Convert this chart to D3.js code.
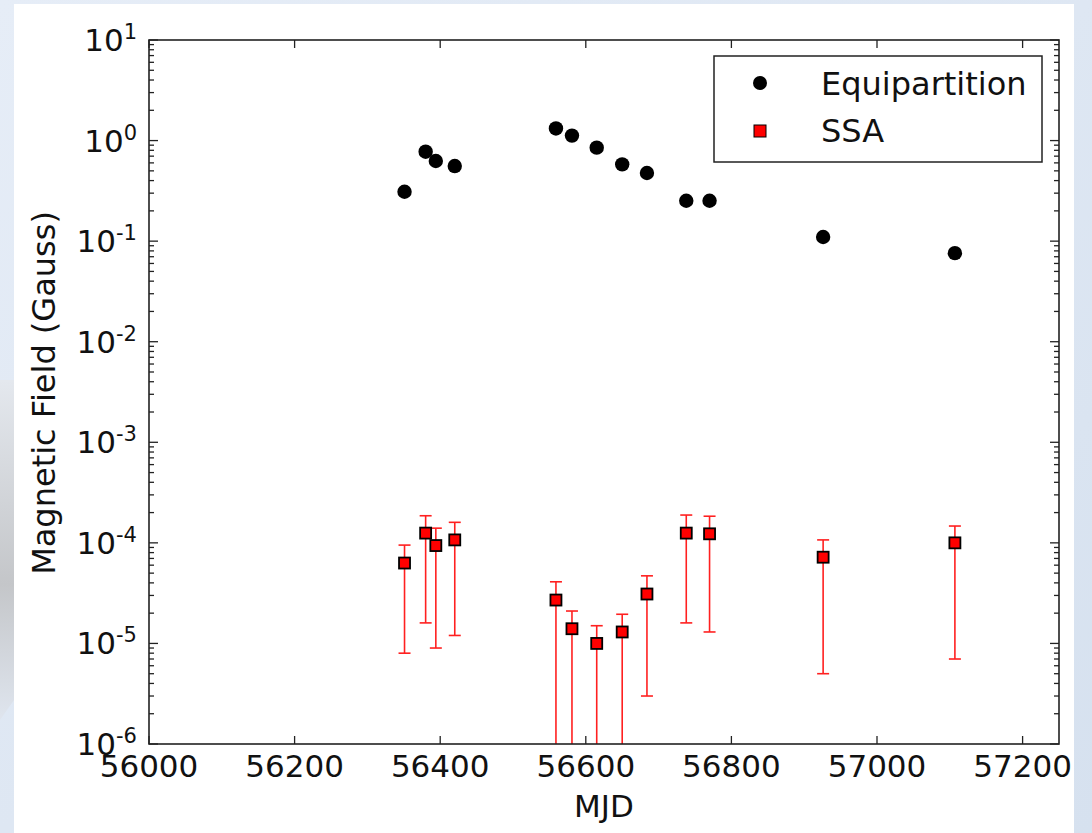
<!DOCTYPE html>
<html>
<head>
<meta charset="utf-8">
<script src="https://cdn.jsdelivr.net/npm/d3@7"></script>
<style>
  html, body { margin: 0; padding: 0; }
  body { width: 1092px; height: 833px; overflow: hidden; }
  svg text { font-family: "DejaVu Sans", sans-serif; fill: #111; }
</style>
</head>
<body>
<svg id="chart" width="1092" height="833"></svg>
<script>
// Observation epochs (MJD) shared by both estimates
const mjd = [56351, 56380, 56394, 56420, 56559, 56581, 56615, 56650, 56684, 56738, 56770, 56926, 57107];
// Equipartition magnetic field (Gauss)
const equipartition = [0.31, 0.775, 0.626, 0.558, 1.32, 1.12, 0.85, 0.58, 0.476, 0.252, 0.252, 0.110, 0.076];
// Synchrotron self-absorption estimate (Gauss) with upper / lower bounds (0 = unbounded below)
const ssa = [6.3e-5, 1.25e-4, 9.4e-5, 1.07e-4, 2.7e-5, 1.4e-5, 1.0e-5, 1.3e-5, 3.1e-5, 1.25e-4, 1.23e-4, 7.2e-5, 1.0e-4];
const ssaUpper = [9.5e-5, 1.86e-4, 1.4e-4, 1.6e-4, 4.1e-5, 2.1e-5, 1.5e-5, 1.95e-5, 4.7e-5, 1.89e-4, 1.84e-4, 1.07e-4, 1.47e-4];
const ssaLower = [8e-6, 1.6e-5, 9e-6, 1.2e-5, 0, 0, 0, 0, 3e-6, 1.6e-5, 1.3e-5, 5e-6, 7e-6];
// Axis ticks
const xTicks = [56000, 56200, 56400, 56600, 56800, 57000, 57200];
const yExponents = [-6, -5, -4, -3, -2, -1, 0, 1];
const legendLabels = ["Equipartition", "SSA"];

const svg = d3.select("#chart");
const W = 1092, H = 833;
const plot = { left: 149, right: 1059, top: 40, bottom: 744 };

// Page background
const defs = svg.append("defs");
const bg = defs.append("linearGradient").attr("id", "bg").attr("x1", 0).attr("y1", 0).attr("x2", 1).attr("y2", 1);
bg.append("stop").attr("offset", "0%").attr("stop-color", "#e6edf7");
bg.append("stop").attr("offset", "100%").attr("stop-color", "#d6e1ef");
const grey = defs.append("linearGradient").attr("id", "grey").attr("x1", 0).attr("y1", 0).attr("x2", 0).attr("y2", 1);
grey.append("stop").attr("offset", "0%").attr("stop-color", "#e4e8ee");
grey.append("stop").attr("offset", "60%").attr("stop-color", "#c4c6c9");
grey.append("stop").attr("offset", "100%").attr("stop-color", "#dfe5ee");
svg.append("rect").attr("width", W).attr("height", H).attr("fill", "url(#bg)");
svg.append("path").attr("d", "M0,380 L14,380 L14,700 L0,720 Z").attr("fill", "url(#grey)");
svg.append("rect").attr("x", 14).attr("y", 4).attr("width", 1060).attr("height", H - 4).attr("fill", "#ffffff");

defs.append("clipPath").attr("id", "plotClip")
  .append("rect").attr("x", plot.left).attr("y", plot.top)
  .attr("width", plot.right - plot.left).attr("height", plot.bottom - plot.top);

const x = d3.scaleLinear().domain([56000, 57250]).range([plot.left, plot.right]);
const y = d3.scaleLog().domain([1e-6, 1e1]).range([plot.bottom, plot.top]);

// Tick marks (inside, on all four sides)
const ticks = svg.append("g").attr("stroke", "#222").attr("stroke-width", 1.3);
xTicks.forEach(t => {
  const px = x(t);
  ticks.append("line").attr("x1", px).attr("x2", px).attr("y1", plot.bottom).attr("y2", plot.bottom - 8);
  ticks.append("line").attr("x1", px).attr("x2", px).attr("y1", plot.top).attr("y2", plot.top + 8);
});
yExponents.forEach(e => {
  const py = y(Math.pow(10, e));
  ticks.append("line").attr("x1", plot.left).attr("x2", plot.left + 9).attr("y1", py).attr("y2", py);
  ticks.append("line").attr("x1", plot.right).attr("x2", plot.right - 9).attr("y1", py).attr("y2", py);
  if (e < 1) {
    for (let m = 2; m <= 9; m++) {
      const my = y(m * Math.pow(10, e));
      ticks.append("line").attr("x1", plot.left).attr("x2", plot.left + 5).attr("y1", my).attr("y2", my);
      ticks.append("line").attr("x1", plot.right).attr("x2", plot.right - 5).attr("y1", my).attr("y2", my);
    }
  }
});

// Tick labels
const fs = 31;
xTicks.forEach(t => {
  svg.append("text").attr("x", x(t)).attr("y", 777).attr("text-anchor", "middle")
    .attr("font-size", fs).text(t);
});
yExponents.forEach(e => {
  const py = y(Math.pow(10, e));
  const txt = svg.append("text").attr("x", 137).attr("y", py + 11).attr("text-anchor", "end")
    .attr("font-size", fs);
  txt.append("tspan").text("10");
  txt.append("tspan").attr("dy", -12).attr("font-size", 21).text(e < 0 ? "-" + Math.abs(e) : String(e));
});

// Axis titles
svg.append("text").attr("x", (plot.left + plot.right) / 2).attr("y", 817).attr("text-anchor", "middle")
  .attr("font-size", fs).text("MJD");
svg.append("text").attr("transform", `translate(55,${(plot.top + plot.bottom) / 2 + 1}) rotate(-90)`)
  .attr("text-anchor", "middle").attr("font-size", 32).text("Magnetic Field (Gauss)");

// Data layer
const data = mjd.map((m, i) => ({ m, eq: equipartition[i], s: ssa[i], hi: ssaUpper[i], lo: ssaLower[i] }));
const layer = svg.append("g").attr("clip-path", "url(#plotClip)");

// SSA error bars
const eb = layer.append("g").attr("stroke", "#ff2020").attr("stroke-width", 1.6);
data.forEach(d => {
  const px = x(d.m);
  const yHi = y(d.hi);
  const yLo = d.lo > 0 ? y(d.lo) : plot.bottom + 20;
  eb.append("line").attr("x1", px).attr("x2", px).attr("y1", yHi).attr("y2", yLo);
  eb.append("line").attr("x1", px - 6).attr("x2", px + 6).attr("y1", yHi).attr("y2", yHi);
  if (d.lo > 0) eb.append("line").attr("x1", px - 6).attr("x2", px + 6).attr("y1", yLo).attr("y2", yLo);
});

// SSA squares
const sq = 11;
layer.append("g").selectAll("rect").data(data).join("rect")
  .attr("x", d => x(d.m) - sq / 2).attr("y", d => y(d.s) - sq / 2)
  .attr("width", sq).attr("height", sq)
  .attr("fill", "#ff0000").attr("stroke", "#000").attr("stroke-width", 1.8);

// Equipartition circles
layer.append("g").selectAll("circle").data(data).join("circle")
  .attr("cx", d => x(d.m)).attr("cy", d => y(d.eq)).attr("r", 7.2).attr("fill", "#000");

// Frame
svg.append("rect").attr("x", plot.left).attr("y", plot.top)
  .attr("width", plot.right - plot.left).attr("height", plot.bottom - plot.top)
  .attr("fill", "none").attr("stroke", "#222").attr("stroke-width", 1.6);

// Legend
const lg = svg.append("g");
lg.append("rect").attr("x", 714).attr("y", 56).attr("width", 328).attr("height", 106)
  .attr("fill", "#fff").attr("stroke", "#222").attr("stroke-width", 1.5);
lg.append("circle").attr("cx", 760).attr("cy", 83).attr("r", 7).attr("fill", "#000");
lg.append("rect").attr("x", 754).attr("y", 125).attr("width", 12).attr("height", 12)
  .attr("fill", "#ff0000").attr("stroke", "#000").attr("stroke-width", 1);
lg.append("text").attr("x", 821).attr("y", 95).attr("font-size", 32).text(legendLabels[0]);
lg.append("text").attr("x", 821).attr("y", 142).attr("font-size", 32).text(legendLabels[1]);
</script>
</body>
</html>
